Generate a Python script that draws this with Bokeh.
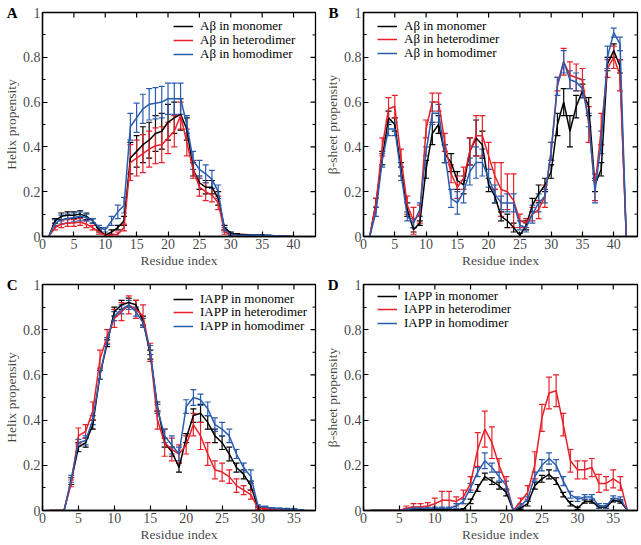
import math
from bokeh.plotting import figure
from bokeh.models import (Range1d, FixedTicker, Whisker, TeeHead, LinearAxis,
                          ColumnDataSource, Legend, LegendItem,
                          CustomJSTickFormatter)
from bokeh.layouts import column, row
from bokeh.embed import file_html
from bokeh.resources import INLINE

FONT = "'Liberation Serif'"
BLACK = "#000000"
RED = "#e8202a"
BLUE = "#2a5cae"

# ---------------- data ----------------
res_A = list(range(1, 41))
A_mono = [0, 0.07, 0.09, 0.095, 0.095, 0.1, 0.09, 0.07, 0.03, 0.005, 0.02, 0.04, 0.07, 0.35, 0.38, 0.41, 0.43, 0.46, 0.47, 0.51,
          0.53, 0.545, 0.48, 0.3, 0.24, 0.22, 0.22, 0.17, 0.04, 0.015, 0.01, 0.008, 0.006, 0.005, 0.005, 0.004, 0.003, 0.002, 0.001, 0]
A_mono_err = [0, 0.01, 0.015, 0.015, 0.015, 0.015, 0.015, 0.01, 0.01, 0.005, 0.01, 0.01, 0.02, 0.07, 0.07, 0.08, 0.08, 0.08, 0.08, 0.08,
              0.07, 0.07, 0.05, 0.03, 0.03, 0.03, 0.03, 0.03, 0.01, 0.005, 0.003, 0.002, 0.002, 0.002, 0.002, 0.001, 0.001, 0.001, 0, 0]
A_het = [0, 0.04, 0.055, 0.06, 0.06, 0.065, 0.055, 0.04, 0.02, 0.005, 0.005, 0.01, 0.04, 0.33, 0.35, 0.37, 0.39, 0.405, 0.41, 0.44,
         0.47, 0.54, 0.42, 0.3, 0.22, 0.2, 0.185, 0.15, 0.02, 0.01, 0.005, 0.004, 0.003, 0.003, 0.002, 0.002, 0.001, 0.001, 0, 0]
A_het_err = [0, 0.01, 0.015, 0.015, 0.015, 0.015, 0.015, 0.01, 0.01, 0.005, 0.005, 0.01, 0.015, 0.08, 0.08, 0.085, 0.08, 0.08, 0.08, 0.07,
             0.07, 0.06, 0.06, 0.04, 0.04, 0.04, 0.03, 0.03, 0.01, 0.005, 0.003, 0.002, 0.002, 0.002, 0.001, 0.001, 0.001, 0, 0, 0]
A_homo = [0, 0.06, 0.075, 0.08, 0.085, 0.09, 0.085, 0.07, 0.04, 0.03, 0.07, 0.11, 0.14, 0.49, 0.53, 0.57, 0.59, 0.595, 0.6, 0.615,
          0.615, 0.615, 0.5, 0.34, 0.3, 0.28, 0.255, 0.2, 0.03, 0.01, 0.006, 0.005, 0.005, 0.005, 0.005, 0.004, 0.003, 0.002, 0.001, 0]
A_homo_err = [0, 0.015, 0.02, 0.02, 0.02, 0.02, 0.015, 0.01, 0.01, 0.01, 0.02, 0.03, 0.035, 0.06, 0.065, 0.065, 0.07, 0.07, 0.07, 0.07,
              0.07, 0.07, 0.04, 0.04, 0.04, 0.04, 0.04, 0.03, 0.01, 0.005, 0.003, 0.002, 0.002, 0.002, 0.002, 0.001, 0.001, 0.001, 0, 0]

res_B = list(range(1, 43))
B_mono = [0, 0.15, 0.35, 0.53, 0.5, 0.3, 0.12, 0.03, 0.06, 0.3, 0.46, 0.5, 0.37, 0.33, 0.25, 0.23, 0.38, 0.44, 0.41, 0.23, 0.18,
          0.09, 0.07, 0.04, 0.005, 0.05, 0.14, 0.19, 0.23, 0.29, 0.5, 0.6, 0.47, 0.58, 0.65, 0.58, 0.23, 0.3, 0.77, 0.83, 0.76, 0]
B_mono_err = [0, 0.02, 0.03, 0.03, 0.03, 0.03, 0.03, 0.01, 0.01, 0.04, 0.05, 0.04, 0.04, 0.04, 0.04, 0.04, 0.06, 0.08, 0.06, 0.03, 0.03,
              0.02, 0.03, 0.02, 0.01, 0.02, 0.03, 0.04, 0.03, 0.03, 0.05, 0.06, 0.07, 0.05, 0.03, 0.04, 0.03, 0.03, 0.03, 0.03, 0.03, 0]
B_het = [0, 0.15, 0.4, 0.57, 0.58, 0.35, 0.14, 0.07, 0.1, 0.48, 0.6, 0.6, 0.42, 0.28, 0.22, 0.26, 0.38, 0.45, 0.45, 0.36, 0.27,
         0.21, 0.2, 0.16, 0.07, 0.06, 0.1, 0.12, 0.18, 0.38, 0.68, 0.78, 0.72, 0.71, 0.7, 0.5, 0.22, 0.48, 0.75, 0.8, 0.72, 0]
B_het_err = [0, 0.02, 0.04, 0.05, 0.05, 0.04, 0.04, 0.06, 0.04, 0.04, 0.04, 0.04, 0.04, 0.04, 0.05, 0.05, 0.06, 0.09, 0.09, 0.06, 0.06,
             0.12, 0.08, 0.12, 0.03, 0.02, 0.03, 0.04, 0.05, 0.04, 0.03, 0.06, 0.06, 0.06, 0.05, 0.08, 0.06, 0.07, 0.04, 0.05, 0.07, 0]
B_homo = [0, 0.11, 0.34, 0.48, 0.48, 0.28, 0.09, 0.06, 0.12, 0.38, 0.55, 0.55, 0.37, 0.17, 0.15, 0.2, 0.29, 0.33, 0.33, 0.26, 0.19,
          0.15, 0.15, 0.15, 0.05, 0.04, 0.1, 0.15, 0.18, 0.38, 0.67, 0.78, 0.7, 0.69, 0.66, 0.52, 0.2, 0.42, 0.8, 0.91, 0.86, 0]
B_homo_err = [0, 0.02, 0.03, 0.03, 0.03, 0.03, 0.02, 0.02, 0.03, 0.02, 0.05, 0.04, 0.04, 0.04, 0.05, 0.05, 0.06, 0.07, 0.06, 0.04, 0.04,
              0.03, 0.04, 0.04, 0.02, 0.02, 0.04, 0.04, 0.03, 0.04, 0.04, 0.05, 0.04, 0.04, 0.04, 0.03, 0.05, 0.05, 0.05, 0.02, 0.03, 0]

res_C = list(range(1, 37))
C_mono = [0, 0, 0, 0.13, 0.28, 0.3, 0.38, 0.6, 0.74, 0.88, 0.91, 0.92, 0.91, 0.84, 0.69, 0.46, 0.3, 0.26, 0.19, 0.32, 0.42, 0.43,
          0.39, 0.33, 0.3, 0.25, 0.19, 0.16, 0.11, 0.01, 0.01, 0.008, 0.006, 0.005, 0.004, 0.002]
C_mono_err = [0, 0, 0, 0.015, 0.02, 0.02, 0.02, 0.02, 0.015, 0.02, 0.02, 0.02, 0.02, 0.02, 0.02, 0.02, 0.02, 0.02, 0.02, 0.02, 0.03, 0.04,
              0.03, 0.03, 0.03, 0.03, 0.02, 0.02, 0.02, 0.005, 0.005, 0.003, 0.003, 0.003, 0.002, 0.001]
C_het = [0, 0, 0, 0.12, 0.33, 0.35, 0.44, 0.67, 0.77, 0.85, 0.88, 0.91, 0.89, 0.86, 0.7, 0.4, 0.3, 0.27, 0.25, 0.29, 0.38, 0.33,
         0.25, 0.18, 0.17, 0.15, 0.11, 0.09, 0.07, 0.01, 0.01, 0.005, 0.004, 0.003, 0.002, 0.001]
C_het_err = [0, 0, 0, 0.015, 0.035, 0.03, 0.04, 0.04, 0.03, 0.04, 0.04, 0.04, 0.04, 0.05, 0.04, 0.04, 0.06, 0.05, 0.04, 0.04, 0.05, 0.06,
             0.05, 0.04, 0.04, 0.03, 0.03, 0.02, 0.02, 0.005, 0.005, 0.003, 0.002, 0.002, 0.001, 0.001]
C_homo = [0, 0, 0, 0.14, 0.3, 0.31, 0.4, 0.6, 0.75, 0.86, 0.89, 0.91, 0.88, 0.83, 0.71, 0.45, 0.33, 0.29, 0.25, 0.46, 0.5, 0.49,
          0.45, 0.38, 0.36, 0.33, 0.25, 0.19, 0.15, 0.02, 0.015, 0.01, 0.008, 0.006, 0.005, 0.003]
C_homo_err = [0, 0, 0, 0.015, 0.015, 0.02, 0.02, 0.02, 0.015, 0.02, 0.02, 0.02, 0.02, 0.02, 0.02, 0.02, 0.03, 0.04, 0.03, 0.03, 0.035, 0.025,
              0.03, 0.03, 0.03, 0.03, 0.02, 0.02, 0.03, 0.005, 0.005, 0.003, 0.003, 0.003, 0.002, 0.001]

res_D = list(range(1, 38))
D_mono = [0, 0, 0, 0, 0, 0, 0.002, 0.003, 0.003, 0.004, 0.004, 0.004, 0.003, 0.005, 0.04, 0.1, 0.15, 0.13, 0.11, 0.08, 0,
          0.01, 0.03, 0.11, 0.14, 0.16, 0.13, 0.07, 0.03, 0.01, 0.04, 0.04, 0.015, 0.015, 0.045, 0.04, 0]
D_mono_err = [0, 0, 0, 0, 0, 0, 0.002, 0.002, 0.002, 0.002, 0.002, 0.002, 0.002, 0.003, 0.01, 0.015, 0.015, 0.015, 0.015, 0.015, 0,
              0.005, 0.01, 0.015, 0.015, 0.02, 0.015, 0.01, 0.01, 0.005, 0.007, 0.007, 0.005, 0.005, 0.007, 0.007, 0]
D_het = [0, 0, 0, 0, 0, 0.01, 0.015, 0.015, 0.02, 0.03, 0.045, 0.045, 0.04, 0.06, 0.12, 0.27, 0.36, 0.3, 0.2, 0.12, 0,
         0.04, 0.08, 0.2, 0.41, 0.52, 0.53, 0.38, 0.22, 0.18, 0.18, 0.19, 0.12, 0.12, 0.14, 0.12, 0]
D_het_err = [0, 0, 0, 0, 0, 0.01, 0.015, 0.015, 0.015, 0.025, 0.04, 0.04, 0.02, 0.03, 0.03, 0.075, 0.08, 0.07, 0.03, 0.03, 0,
             0.015, 0.03, 0.06, 0.06, 0.07, 0.07, 0.05, 0.05, 0.04, 0.04, 0.04, 0.04, 0.03, 0.04, 0.03, 0]
D_homo = [0, 0, 0, 0, 0, 0.005, 0.01, 0.01, 0.01, 0.01, 0.01, 0.01, 0.02, 0.04, 0.1, 0.17, 0.22, 0.19, 0.15, 0.11, 0,
          0.02, 0.05, 0.15, 0.2, 0.23, 0.2, 0.13, 0.07, 0.05, 0.06, 0.06, 0.02, 0.02, 0.055, 0.05, 0]
D_homo_err = [0, 0, 0, 0, 0, 0.005, 0.005, 0.005, 0.005, 0.005, 0.005, 0.005, 0.01, 0.01, 0.02, 0.02, 0.035, 0.02, 0.02, 0.02, 0,
              0.01, 0.01, 0.02, 0.025, 0.025, 0.025, 0.02, 0.015, 0.01, 0.01, 0.01, 0.01, 0.01, 0.01, 0.01, 0]

y_ticks = [0, 0.2, 0.4, 0.6, 0.8, 1.0]
y_minor = [0.1, 0.3, 0.5, 0.7, 0.9]
x_ticks_AB = [0, 5, 10, 15, 20, 25, 30, 35, 40]
x_ticks_CD = [0, 5, 10, 15, 20, 25, 30, 35]
names_Ab = ["A\u03b2 in monomer", "A\u03b2 in heterodimer", "A\u03b2 in homodimer"]
names_IAPP = ["IAPP in monomer", "IAPP in heterodimer", "IAPP in homodimer"]
COLORS = [BLACK, RED, BLUE]

FMT = CustomJSTickFormatter(code="return (Math.round(tick*10)/10).toString();")
ROW_H = 17.2  # measured legend row height in px


def style_axis(ax, ticker):
    ax.ticker = ticker
    ax.axis_line_color = "black"
    ax.axis_line_width = 1.3
    ax.major_tick_in = 5
    ax.major_tick_out = 0
    ax.minor_tick_in = 3
    ax.minor_tick_out = 0
    ax.major_tick_line_width = 1.2
    ax.minor_tick_line_width = 1.0
    ax.major_label_text_font = FONT
    ax.major_label_text_font_size = "14px"
    ax.major_label_text_color = "black"
    ax.major_label_text_alpha = 0.75
    ax.major_label_standoff = 2
    ax.axis_label_text_font = FONT
    ax.axis_label_text_font_size = "13.5px"
    ax.axis_label_text_font_style = "normal"
    ax.axis_label_text_color = "black"
    ax.axis_label_text_alpha = 0.75
    ax.axis_label_standoff = 1


def panel(letter, ylabel, res, xmax, xticks, series, errs, names,
          width, height, borders, leg_x, leg_centers):
    bl, br, bt, bb = borders
    frame_h = height - bt - bb
    p = figure(width=width, height=height, output_backend="svg", toolbar_location=None,
               x_range=Range1d(0, xmax), y_range=Range1d(0, 1),
               min_border_left=bl, min_border_right=br, min_border_top=bt, min_border_bottom=bb)
    p.xgrid.visible = False
    p.ygrid.visible = False
    p.outline_line_color = "black"
    p.outline_line_width = 1.3
    p.background_fill_color = "white"
    p.border_fill_color = "white"

    style_axis(p.xaxis[0], FixedTicker(ticks=xticks, minor_ticks=[]))
    style_axis(p.yaxis[0], FixedTicker(ticks=y_ticks, minor_ticks=y_minor))
    p.xaxis[0].axis_label = "Residue index"
    p.yaxis[0].axis_label = ylabel
    p.yaxis[0].formatter = FMT

    # panel letter, drawn as the only label of an extra, line-less left axis at y = 1
    lax = LinearAxis(ticker=FixedTicker(ticks=[1.0], minor_ticks=[]),
                     formatter=CustomJSTickFormatter(code="return '%s';" % letter),
                     axis_line_color=None, major_tick_line_color=None, minor_tick_line_color=None,
                     major_tick_in=0, major_tick_out=0, minor_tick_in=0, minor_tick_out=0,
                     major_label_text_font=FONT, major_label_text_font_style="bold",
                     major_label_text_font_size="15px", major_label_text_color="black",
                     major_label_standoff=-17)
    p.add_layout(lax, "left")

    # mirrored inner ticks on top and right edges
    p.ray(x=xticks, y=[1] * len(xticks), length=5, length_units="screen",
          angle=-math.pi / 2, line_color="black", line_width=1.2)
    p.ray(x=[xmax] * len(y_ticks), y=y_ticks, length=5, length_units="screen",
          angle=math.pi, line_color="black", line_width=1.2)
    p.ray(x=[xmax] * len(y_minor), y=y_minor, length=3, length_units="screen",
          angle=math.pi, line_color="black", line_width=1.0)

    for i, (vals, err, name, col) in enumerate(zip(series, errs, names, COLORS)):
        xs = [r for r, e in zip(res, err) if e > 0]
        up = [v + e for v, e in zip(vals, err) if e > 0]
        lo = [max(v - e, 0) for v, e in zip(vals, err) if e > 0]
        src = ColumnDataSource(dict(x=xs, upper=up, lower=lo))
        w = Whisker(source=src, base="x", upper="upper", lower="lower", dimension="height",
                    line_color=col, line_width=1.2,
                    upper_head=TeeHead(size=6, line_color=col, line_width=1.2),
                    lower_head=TeeHead(size=6, line_color=col, line_width=1.2))
        p.add_layout(w)
        r = p.line(res, vals, line_color=col, line_width=1.5)

        leg = Legend(items=[LegendItem(label=name, renderers=[r])],
                     location=(leg_x, frame_h - leg_centers[i] - ROW_H / 2))
        leg.border_line_color = None
        leg.background_fill_alpha = 0
        leg.label_text_font = FONT
        leg.label_text_font_size = "13px"
        leg.label_text_color = "black"
        leg.glyph_width = 20
        leg.glyph_height = 12
        leg.label_height = 12
        leg.label_standoff = 7
        leg.spacing = 0
        leg.padding = 0
        leg.margin = 0
        p.add_layout(leg)
    return p


pA = panel("A", "Helix propensity", res_A, 43.5, x_ticks_AB, [A_mono, A_het, A_homo],
           [A_mono_err, A_het_err, A_homo_err], names_Ab,
           318, 270, (42, 3, 12, 33), 131, [14.7, 28.4, 42.1])
pB = panel("B", "\u03b2-sheet propensity", res_B, 43.8, x_ticks_AB, [B_mono, B_het, B_homo],
           [B_mono_err, B_het_err, B_homo_err], names_Ab,
           322, 270, (45, 3, 12, 33), 14, [14.0, 27.5, 41.0])
pC = panel("C", "Helix propensity", res_C, 38, x_ticks_CD, [C_mono, C_het, C_homo],
           [C_mono_err, C_het_err, C_homo_err], names_IAPP,
           318, 275, (42, 3, 14, 35), 131, [14.3, 27.8, 41.3])
pD = panel("D", "\u03b2-sheet propensity", res_D, 38.4, x_ticks_CD, [D_mono, D_het, D_homo],
           [D_mono_err, D_het_err, D_homo_err], names_IAPP,
           322, 275, (45, 3, 14, 35), 14, [11.0, 24.7, 38.4])

layout = column(row(pA, pB), row(pC, pD))
open("out.html", "w").write(file_html(layout, INLINE))
